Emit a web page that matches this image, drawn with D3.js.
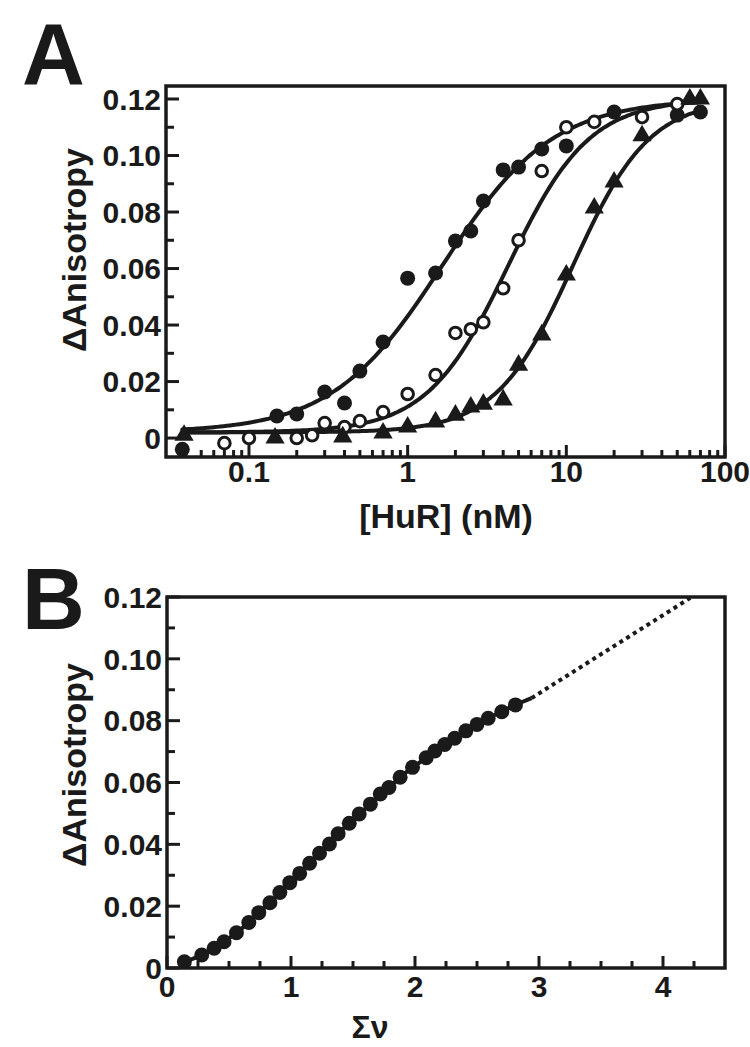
<!DOCTYPE html>
<html>
<head>
<meta charset="utf-8">
<script src="https://cdn.jsdelivr.net/npm/d3@7"></script>
<style>
	body { margin: 0; background: #fff; }
	text { font-family: 'Liberation Sans', Arial, sans-serif; font-weight: bold; fill: #1a1a1a; }
</style>
</head>
<body>
<div id="box"></div>
<script>
// panel A: [HuR] (nM) vs ΔAnisotropy, three series
const filledX = [0.038, 0.15, 0.20, 0.30, 0.40, 0.50, 0.70, 1.0, 1.5, 2.0, 2.5, 3.0, 4.0, 5.0, 7.0, 10, 20, 50, 70];
const filledY = [-0.004, 0.0078, 0.0085, 0.0163, 0.0124, 0.0237, 0.034, 0.0566, 0.0584, 0.0697, 0.0733, 0.0839, 0.0949, 0.0959, 0.1023, 0.1034, 0.1154, 0.1143, 0.1154];

const openX = [0.07, 0.1, 0.2, 0.25, 0.3, 0.4, 0.5, 0.7, 1.0, 1.5, 2.0, 2.5, 3.0, 4.0, 5.0, 7.0, 10, 15, 30, 50];
const openY = [-0.0018, 0.0, 0.0, 0.001, 0.0053, 0.0039, 0.006, 0.0092, 0.0156, 0.0223, 0.0372, 0.0385, 0.041, 0.053, 0.070, 0.0945, 0.110, 0.1119, 0.1136, 0.1182];

const triX = [0.039, 0.146, 0.39, 0.7, 1.0, 1.5, 2.0, 2.5, 3.0, 4.0, 5.0, 7.0, 10, 15, 20, 30, 60, 70];
const triY = [0.001, 0.0, 0.0004, 0.0018, 0.0039, 0.0057, 0.0081, 0.011, 0.012, 0.0135, 0.0258, 0.0365, 0.0577, 0.0814, 0.0906, 0.107, 0.12, 0.12];

// Hill fit parameters (base, top, K, n) for filled / open / triangle
const fitBase = [0.002, 0.002, 0.002];
const fitTop = [0.12, 0.12, 0.12];
const fitK = [1.65, 4.3, 11];
const fitN = [1.25, 1.7, 1.8];
const fitRange = [0.038, 72];

const aYTicks = [0, 0.02, 0.04, 0.06, 0.08, 0.10, 0.12];
const aYLabels = ['0', '0.02', '0.04', '0.06', '0.08', '0.10', '0.12'];
const aXTicks = [0.1, 1, 10, 100];
const aXLabels = ['0.1', '1', '10', '100'];

// panel B: Σν vs ΔAnisotropy
const bX = [0.14, 0.28, 0.38, 0.46, 0.56, 0.66, 0.74, 0.83, 0.91, 0.99, 1.07, 1.15, 1.23, 1.31, 1.38, 1.47, 1.55, 1.64, 1.72, 1.79, 1.88, 1.98, 2.09, 2.16, 2.24, 2.32, 2.41, 2.50, 2.59, 2.70, 2.81];
const bY = [0.002, 0.0042, 0.0064, 0.0085, 0.0114, 0.0147, 0.0179, 0.0211, 0.0244, 0.0276, 0.0306, 0.0339, 0.0371, 0.0401, 0.0434, 0.0468, 0.0498, 0.0530, 0.0563, 0.0584, 0.0617, 0.0649, 0.0680, 0.0702, 0.0723, 0.0743, 0.0767, 0.0788, 0.0808, 0.0829, 0.0851];
const bSolidEnd = [2.94, 0.0873];
const bDottedEnd = [4.22, 0.1197];

const bYTicks = [0, 0.02, 0.04, 0.06, 0.08, 0.10, 0.12];
const bYLabels = ['0', '0.02', '0.04', '0.06', '0.08', '0.10', '0.12'];
const bXTicks = [0, 1, 2, 3, 4];
const bXLabels = ['0', '1', '2', '3', '4'];

const ink = '#1a1a1a';
const width = 750;
const height = 1047;

const svg = d3.select('#box').append('svg')
	.attr('width', width)
	.attr('height', height)
	.attr('viewBox', [0, 0, width, height]);

function frame(x, y) {
	const [x0, x1] = x.range();
	const [y0, y1] = y.range();
	svg.append('rect')
		.attr('x', x0).attr('y', y1)
		.attr('width', x1 - x0).attr('height', y0 - y1)
		.attr('fill', 'none')
		.attr('stroke', ink)
		.attr('stroke-width', 3.5);
}

function yAxis(y, x0, ticks, labels, minor) {
	const g = svg.append('g');
	g.selectAll('line.minor').data(minor).join('line')
		.attr('x1', x0).attr('x2', x0 + 8)
		.attr('y1', d => y(d)).attr('y2', d => y(d))
		.attr('stroke', ink).attr('stroke-width', 3);
	g.selectAll('line.major').data(ticks).join('line')
		.attr('x1', x0).attr('x2', x0 + 13)
		.attr('y1', d => y(d)).attr('y2', d => y(d))
		.attr('stroke', ink).attr('stroke-width', 3);
	g.selectAll('text').data(ticks).join('text')
		.attr('x', x0 - 5)
		.attr('y', d => y(d))
		.attr('dy', '0.36em')
		.attr('text-anchor', 'end')
		.attr('font-size', 30)
		.text((d, i) => labels[i]);
}

function xAxis(x, y0, ticks, labels, minor, labelY) {
	const g = svg.append('g');
	g.selectAll('line.minor').data(minor).join('line')
		.attr('x1', d => x(d)).attr('x2', d => x(d))
		.attr('y1', y0).attr('y2', y0 - 7)
		.attr('stroke', ink).attr('stroke-width', 3);
	g.selectAll('line.major').data(ticks).join('line')
		.attr('x1', d => x(d)).attr('x2', d => x(d))
		.attr('y1', y0).attr('y2', y0 - 12)
		.attr('stroke', ink).attr('stroke-width', 3);
	g.selectAll('text').data(ticks).join('text')
		.attr('x', d => x(d))
		.attr('y', labelY)
		.attr('text-anchor', 'middle')
		.attr('font-size', 30)
		.text((d, i) => labels[i]);
}

function title(x, y, rot, txt, size = 34) {
	svg.append('text')
		.attr('transform', `translate(${x},${y}) rotate(${rot})`)
		.attr('text-anchor', 'middle')
		.attr('font-size', size)
		.text(txt);
}

// ---- panel A ----
const xA = d3.scaleLog([0.03, 100], [166, 725]);
const yA = d3.scaleLinear([-0.0067, 0.1246], [457, 86]);

svg.append('text').attr('x', 22).attr('y', 84).attr('font-size', 87).text('A');

const aMinorX = [];
[0.01, 0.1, 1, 10].forEach(dec => {
	for (let k = 2; k <= 9; k++) {
		const v = dec * k;
		if (v > 0.03 && v < 100) aMinorX.push(v);
	}
});
xAxis(xA, 457, aXTicks, aXLabels, aMinorX, 482);
yAxis(yA, 166, aYTicks, aYLabels, [0.01, 0.03, 0.05, 0.07, 0.09, 0.11]);
title(446, 528, 0, '[HuR] (nM)');
title(86, 250, -90, 'ΔAnisotropy');

const curveXs = d3.ticks(Math.log10(fitRange[0]), Math.log10(fitRange[1]), 200).map(v => Math.pow(10, v));
const line = d3.line().curve(d3.curveBasis);
for (let s = 0; s < 3; s++) {
	const pts = curveXs.map(c => {
		const f = Math.pow(c / fitK[s], fitN[s]);
		return [xA(c), yA(fitBase[s] + (fitTop[s] - fitBase[s]) * f / (1 + f))];
	});
	svg.append('path')
		.attr('fill', 'none')
		.attr('stroke', ink)
		.attr('stroke-width', 4)
		.attr('stroke-linecap', 'round')
		.attr('d', line(pts));
}

svg.append('g').selectAll('circle').data(filledX).join('circle')
	.attr('cx', d => xA(d))
	.attr('cy', (d, i) => yA(filledY[i]))
	.attr('r', 7.5)
	.attr('fill', ink);

svg.append('g').selectAll('circle').data(openX).join('circle')
	.attr('cx', d => xA(d))
	.attr('cy', (d, i) => yA(openY[i]))
	.attr('r', 5.8)
	.attr('fill', '#fff')
	.attr('stroke', ink)
	.attr('stroke-width', 3);

const tri = d3.symbol(d3.symbolTriangle, 160);
svg.append('g').selectAll('path').data(triX).join('path')
	.attr('transform', (d, i) => `translate(${xA(d)},${yA(triY[i])})`)
	.attr('d', tri)
	.attr('fill', ink);

frame(xA, yA);

// ---- panel B ----
const xB = d3.scaleLinear([0, 4.5], [167, 725]);
const yB = d3.scaleLinear([0, 0.12], [968, 597]);

svg.append('text').attr('x', 22).attr('y', 629).attr('font-size', 87).text('B');

xAxis(xB, 968, bXTicks, bXLabels, d3.range(0.25, 4.5, 0.25).filter(v => v % 1 !== 0), 997);
yAxis(yB, 167, bYTicks, bYLabels, [0.01, 0.03, 0.05, 0.07, 0.09, 0.11]);
title(370, 1038, 0, 'Σν', 32);
title(86, 765, -90, 'ΔAnisotropy');

const bPts = bX.map((v, i) => [xB(v), yB(bY[i])]);
bPts.push([xB(bSolidEnd[0]), yB(bSolidEnd[1])]);
svg.append('path')
	.attr('fill', 'none')
	.attr('stroke', ink)
	.attr('stroke-width', 4)
	.attr('d', d3.line().curve(d3.curveMonotoneX)(bPts));

svg.append('path')
	.attr('fill', 'none')
	.attr('stroke', ink)
	.attr('stroke-width', 4)
	.attr('stroke-dasharray', '4,4')
	.attr('d', d3.line()([[xB(bSolidEnd[0]), yB(bSolidEnd[1])], [xB(bDottedEnd[0]), yB(bDottedEnd[1])]]));

svg.append('g').selectAll('circle').data(bX).join('circle')
	.attr('cx', d => xB(d))
	.attr('cy', (d, i) => yB(bY[i]))
	.attr('r', 7.5)
	.attr('fill', ink);

frame(xB, yB);
</script>
</body>
</html>
